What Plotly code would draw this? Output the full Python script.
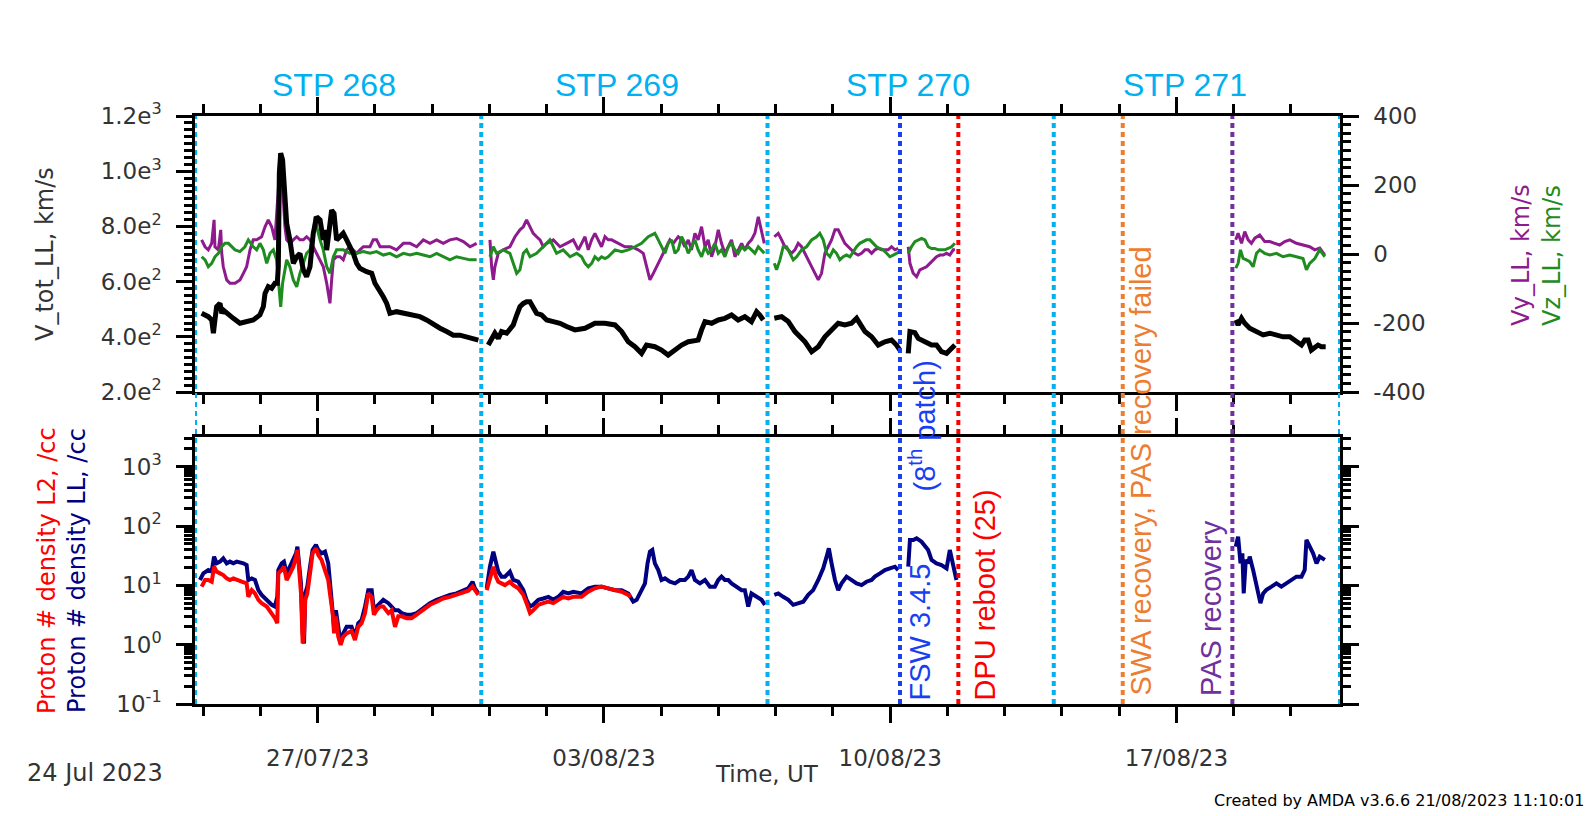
import pandas as pd
import plotly.graph_objects as go

T0 = pd.Timestamp("2023-07-24 00:00")
X_RANGE = ["2023-07-24 00:00", "2023-08-21 00:00"]

# ---------------- data: (hours since 2023-07-24 00:00 UT, value) ----------------
vtot_seg1 = [(3.9,485),(7.8,473),(9.8,461),(10.8,413),(11.7,461),(12.7,509),(14.7,521),(15.7,485),(16.6,497),(18.6,485),
             (22.5,467),(26.4,449),(30.3,455),(34.2,461),(38.1,479),(40.1,509),(41.1,557),(43.0,582),(45.0,576),(46.9,594),
             (48.3,594),(48.9,654),(49.5,992),(50.3,1065),(51.4,1041),(52.2,932),(53.8,811),(55.7,751),(57.7,666),(59.7,690),
             (61.6,702),(63.6,642),(65.5,618),(67.5,654),(69.4,775),(71.4,835),(73.4,823),(75.3,751),(76.3,787),(77.3,714),
             (79.2,811),(80.2,859),(81.6,847),(83.1,751),(85.1,763),(87.0,775),(89.0,751),(90.9,727),(92.9,702),(94.9,666),
             (96.8,648),(100.7,636),(103.7,630),(105.6,594),(107.6,576),(110.5,545),(112.5,521),(114.4,485),(118.3,491),
             (122.3,485),(126.2,479),(132.0,473),(135.9,461),(139.9,443),(143.8,431),(147.7,419),(151.6,406),(155.5,406),
             (159.4,400),(163.3,391),(166.3,388)]
vtot_seg2 = [(172.1,370),(174.1,394),(176.0,413),(178.0,394),(179.9,419),(182.9,413),(184.8,425),(186.8,443),(188.8,479),
             (190.7,509),(192.7,521),(194.6,527),(196.6,527),(198.5,509),(200.5,485),(203.4,479),(206.4,461),(210.3,455),
             (214.2,449),(218.1,437),(223.0,425),(228.9,431),(234.7,449),(240.6,449),(246.5,443),(250.4,419),(254.3,382),
             (258.2,364),(262.1,340),(265.0,370),(269.9,364),(273.8,352),(277.7,334),(281.7,352),(285.6,370),(289.5,382),
             (295.3,388),(297.3,425),(299.3,455),(303.2,449),(307.1,461),(311.0,467),(314.9,479),(318.8,461),(322.7,473),
             (326.6,455),(329.6,491),(331.5,479),(333.5,461)]
vtot_seg3 = [(340.0,467),(344.3,473),(348.2,455),(352.1,419),(358.0,382),(361.9,346),(365.8,364),(369.7,400),(373.6,425),
             (377.5,449),(381.4,443),(385.3,449),(388.3,467),(390.2,449),(393.2,419),(397.1,400),(401.0,370),(404.9,382),
             (408.8,388),(411.7,370),(413.7,352)]
vtot_seg4 = [(418.6,340),(419.6,419),(422.5,415),(424.5,394),(428.4,382),(432.3,370),(435.2,370),(438.1,346),(441.1,340),
             (444.0,358),(446.0,370)]
vtot_seg5 = [(610.8,461),(612.2,443),(614.2,467),(616.1,449),(619.0,431),(623.0,419),(626.9,407),(630.8,413),(634.7,407),
             (638.6,400),(642.5,400),(646.4,382),(649.4,370),(651.3,388),(653.3,388),(655.2,352),(657.2,364),(659.1,370),
             (661.1,364),(663.6,364)]

vy_seg1 = [(3.9,41),(5.9,21),(7.8,12),(9.8,31),(11.2,99),(11.7,21),(13.7,12),(15.1,70),(15.7,2),(16.6,-37),(18.6,-75),
           (20.5,-85),(23.5,-85),(26.4,-75),(28.4,-56),(30.3,-37),(32.3,12),(34.2,41),(36.2,41),(39.1,50),(41.1,79),(43.0,99),
           (45.0,79),(46.9,41),(48.9,186),(49.9,292),(50.9,234),(51.8,157),(52.8,79),(53.8,41),(55.7,31),(57.7,41),(59.7,50),
           (61.6,41),(63.6,41),(65.5,50),(67.5,41),(69.4,21),(71.4,2),(73.4,-17),(75.3,-37),(77.3,-85),(79.2,-143),(80.2,-75),
           (81.2,-17),(83.1,-8),(85.1,-8),(87.0,-17),(89.0,12),(90.9,21),(92.9,12),(94.9,2),(96.8,12),(98.8,21),(102.7,21),
           (104.6,41),(106.6,41),(108.6,21),(110.5,21),(114.4,21),(118.3,12),(122.3,31),(126.2,31),(130.1,21),(134.0,41),
           (137.9,31),(141.8,41),(145.7,31),(149.6,41),(153.5,45),(157.5,36),(161.4,21),(165.3,31)]
vy_seg2 = [(173.1,41),(174.1,-37),(175.1,-75),(176.0,-37),(178.0,2),(180.9,12),(184.8,21),(187.8,50),(190.7,70),(192.7,79),
           (194.6,99),(196.6,79),(198.5,60),(200.5,50),(202.5,41),(204.4,21),(206.4,31),(210.3,41),(214.2,21),(218.1,31),
           (222.0,41),(225.0,12),(226.9,31),(228.9,50),(230.8,12),(232.8,41),(234.7,60),(236.7,41),(238.6,21),(240.6,50),
           (242.5,41),(244.5,41),(248.4,31),(252.3,21),(256.2,21),(260.1,12),(263.1,2),(265.0,-37),(267.0,-75),(269.0,-56),
           (270.9,-37),(272.9,-17),(274.8,2),(276.8,21),(278.7,41),(280.7,31),(283.6,50),(285.6,41),(287.5,21),(289.5,41),
           (291.4,12),(293.4,60),(295.3,41),(297.3,79),(299.3,21),(301.2,41),(303.2,-8),(305.1,21),(307.1,70),(309.0,31),
           (311.0,2),(313.0,21),(314.9,41),(316.9,-8),(318.8,12),(320.8,31),(322.7,12),(324.7,31),(326.6,41),(328.6,60),
           (330.6,108),(332.5,70),(334.1,31)]
vy_seg3 = [(340.0,50),(342.3,60),(344.3,41),(346.2,21),(348.2,12),(350.1,2),(352.1,12),(354.0,31),(356.0,21),(358.0,2),
           (359.9,-17),(361.9,-37),(363.8,-56),(365.8,-75),(367.7,-56),(369.7,2),(371.6,21),(373.6,41),(375.6,70),(377.5,70),
           (379.5,50),(381.4,31),(383.4,21),(385.3,12),(387.3,2),(389.2,-3),(391.2,2),(393.2,12),(395.1,12),(397.1,2),
           (399.0,12),(401.0,16),(402.9,12),(404.9,12),(406.8,12),(408.8,21),(410.8,12),(412.7,16)]
vy_seg4 = [(418.6,21),(419.6,-27),(421.5,-56),(423.5,-66),(425.4,-46),(427.4,-42),(429.3,-37),(431.3,-27),(433.3,-17),
           (435.2,-8),(437.2,-3),(439.1,-3),(441.1,2),(443.0,-3),(445.0,12),(446.0,12)]
vy_seg5 = [(610.8,41),(612.2,60),(614.2,31),(616.1,65),(618.1,41),(620.0,31),(622.0,46),(624.9,55),(627.8,36),(630.8,36),
           (633.7,31),(636.6,26),(639.6,36),(642.5,41),(646.4,31),(650.3,26),(654.2,21),(657.2,12),(660.1,17),(663.1,-3)]

vz_seg1 = [(3.9,-8),(5.9,-17),(7.8,-37),(9.8,-27),(11.7,-8),(13.7,2),(15.7,21),(17.6,31),(19.6,31),(21.5,21),(23.5,12),
           (26.4,7),(29.3,21),(31.3,41),(34.2,21),(36.2,12),(38.1,31),(40.1,12),(42.1,-27),(44.0,2),(46.0,12),(47.9,-17),
           (49.5,-114),(50.3,-153),(51.4,-85),(52.8,-37),(53.8,-17),(55.7,-37),(57.7,-75),(59.7,-95),(61.6,-56),(63.6,-27),
           (65.5,2),(67.5,12),(69.4,60),(70.4,108),(71.4,79),(73.4,41),(75.3,12),(77.3,-37),(79.2,-56),(81.2,-8),(83.1,12),
           (87.0,12),(90.9,2),(94.9,2),(98.8,7),(102.7,2),(106.6,7),(110.5,-3),(114.4,2),(118.3,-8),(122.3,2),(126.2,-3),
           (130.1,2),(134.0,-3),(137.9,-8),(141.8,2),(145.7,-8),(149.6,-17),(153.5,-8),(157.5,-13),(161.4,-17),(165.3,-17)]
vz_seg2 = [(173.1,-8),(175.1,21),(177.0,2),(180.9,12),(184.8,2),(188.8,-56),(190.7,-46),(192.7,2),(194.6,12),(196.6,-8),
           (200.5,2),(204.4,21),(208.3,41),(212.2,2),(216.1,12),(220.1,-8),(224.0,2),(226.9,-8),(228.9,-27),(230.8,-37),
           (232.8,-27),(234.7,-8),(236.7,-17),(238.6,-8),(240.6,-13),(242.5,-8),(244.5,2),(246.5,12),(250.4,7),(254.3,12),
           (258.2,21),(262.1,31),(266.0,50),(269.9,60),(271.9,41),(273.8,21),(275.8,2),(277.7,31),(279.7,41),(281.7,2),
           (283.6,12),(285.6,50),(287.5,31),(289.5,2),(291.4,21),(293.4,41),(295.3,12),(297.3,-8),(299.3,21),(301.2,2),
           (303.2,12),(305.1,31),(307.1,2),(309.0,12),(311.0,-8),(313.0,21),(314.9,31),(316.9,12),(318.8,2),(320.8,21),
           (322.7,12),(324.7,21),(326.6,12),(328.6,2),(330.6,21),(332.5,12),(334.1,2)]
vz_seg3 = [(340.0,-27),(341.3,-46),(343.3,-17),(345.2,21),(347.2,21),(349.1,2),(351.1,-17),(353.1,-8),(356.0,12),(358.9,21),
           (361.9,41),(364.8,50),(366.7,60),(368.7,41),(370.7,2),(372.6,-8),(374.6,12),(376.5,2),(378.5,-17),(380.4,-8),
           (382.4,-3),(384.4,-8),(386.3,7),(388.3,21),(390.2,31),(392.2,36),(394.1,41),(396.1,41),(398.0,31),(400.0,21),
           (402.0,16),(403.9,12),(405.9,2),(407.8,-8),(409.8,-3),(411.7,2),(413.7,7)]
vz_seg4 = [(418.6,2),(420.5,21),(422.5,36),(424.5,41),(426.4,45),(428.4,41),(430.3,21),(432.3,16),(434.2,16),(436.2,12),
           (438.1,12),(440.1,12),(442.0,16),(444.0,21),(446.0,31)]
vz_seg5 = [(610.8,-41),(612.2,-27),(613.6,12),(615.1,-13),(617.1,-17),(619.0,-22),(621.0,-37),(623.0,2),(624.9,12),
           (627.8,2),(630.8,-3),(634.7,2),(638.6,-8),(642.5,-3),(646.4,-8),(650.3,-13),(652.3,-46),(654.2,-27),(657.2,-13),
           (660.1,12),(663.1,-8)]

nll_seg1 = [(2.9,12.3),(4.9,15.9),(7.8,18.1),(9.8,17.0),(11.2,30.4),(12.7,23.5),(14.7,25.1),(16.6,28.5),(18.6,23.5),
            (20.5,25.1),(22.5,23.5),(24.5,25.1),(28.4,23.5),(30.3,22.0),(31.3,12.3),(33.3,13.1),(35.2,12.3),(37.2,8.3),
            (39.1,6.9),(42.1,5.7),(45.0,4.7),(46.9,4.4),(48.3,6.4),(48.9,18.1),(50.9,23.5),(52.2,25.1),(53.8,15.9),(55.7,20.6),
            (57.7,26.7),(59.3,34.6),(60.1,44.9),(60.8,30.4),(62.2,10.8),(63.2,1.55),(64.0,1.05),(64.7,7.3),(65.9,9.5),
            (67.5,20.6),(69.0,39.4),(71.0,47.9),(72.4,39.4),(74.3,34.6),(76.3,36.9),(78.2,23.5),(79.2,12.3),(80.8,4.4),
            (81.6,2.0),(82.7,3.8),(84.1,1.8),(85.5,1.05),(87.0,1.55),(89.0,2.0),(91.9,2.0),(93.9,1.36),(95.8,2.3),(97.8,2.6),
            (99.8,4.4),(101.7,8.3),(103.7,8.3),(105.0,3.8),(106.6,4.4),(108.6,5.0),(110.5,5.7),(113.5,5.0),(115.4,4.4),
            (117.4,3.8),(119.3,3.8),(121.3,3.4),(124.2,3.2),(127.1,3.2),(130.1,3.4),(134.0,4.1),(137.9,5.0),(141.8,5.7),
            (145.7,6.4),(149.6,6.9),(153.5,7.3),(157.5,8.3),(160.4,8.9),(162.9,11.5),(164.3,8.9),(166.3,7.3)]
nll_seg2 = [(171.2,8.9),(173.1,20.6),(175.1,36.9),(176.6,23.5),(178.0,17.0),(179.9,14.0),(181.9,14.0),(184.8,17.0),
            (186.8,12.3),(189.7,11.5),(192.7,8.3),(194.6,5.7),(196.6,4.4),(198.5,4.7),(201.5,5.7),(204.4,6.0),(207.4,6.4),
            (210.3,5.7),(213.2,6.4),(216.1,7.8),(219.1,7.3),(222.0,7.8),(226.9,7.3),(230.8,8.9),(234.7,9.5),(238.6,9.5),
            (242.5,8.9),(246.5,8.3),(250.4,8.3),(254.3,7.3),(257.2,5.3),(259.2,5.7),(262.1,8.3),(264.1,10.8),(265.6,23.5),
            (267.0,36.9),(268.4,39.4),(269.9,23.5),(271.9,18.1),(273.8,12.3),(275.8,13.1),(278.7,11.5),(281.7,10.8),
            (284.6,12.3),(287.5,12.3),(289.5,14.0),(291.4,18.1),(293.4,12.3),(296.3,10.8),(299.3,12.3),(302.2,9.5),
            (305.1,9.5),(307.1,12.3),(309.0,14.0),(311.0,12.3),(313.0,12.3),(314.9,10.8),(317.8,9.5),(320.8,8.3),
            (322.7,8.3),(324.7,4.4),(326.6,7.3),(329.6,6.4),(332.5,5.7),(334.5,4.7)]
nll_seg3 = [(340.0,6.9),(342.3,7.3),(345.2,6.4),(348.2,5.7),(351.1,4.7),(354.0,5.0),(357.0,5.3),(359.9,6.9),(362.8,8.3),
            (365.8,12.3),(368.7,19.3),(370.7,30.4),(372.0,42.0),(373.6,23.5),(375.6,12.3),(377.5,8.3),(379.5,10.8),
            (382.4,14.0),(385.3,12.3),(388.3,10.8),(391.2,10.1),(394.1,11.5),(397.1,12.3),(399.0,14.0),(402.0,15.9),
            (404.9,18.1),(407.8,19.3),(410.8,20.6),(412.7,18.1)]
nll_seg4 = [(418.6,20.6),(419.6,58.1),(421.5,58.1),(423.5,61.9),(426.4,54.4),(428.4,44.8),(430.3,39.4),(432.3,26.7),
            (435.2,23.5),(438.1,22.0),(441.1,19.3),(443.0,39.4),(445.0,23.5),(446.9,12.3)]
nll_seg5 = [(610.8,44.9),(612.2,66.2),(613.6,23.5),(614.7,34.7),(615.5,7.3),(616.7,26.8),(618.1,23.5),(619.0,30.5),
            (621.0,18.2),(622.6,10.8),(623.9,6.5),(625.3,5.0),(626.9,7.3),(628.8,8.4),(631.8,9.5),(634.7,10.8),(637.6,9.5),
            (640.6,10.8),(643.5,12.3),(646.4,14.0),(649.4,14.0),(651.3,18.2),(652.3,58.2),(654.2,44.9),(656.2,34.7),
            (658.2,23.5),(660.1,30.5),(663.1,26.8)]

nl2_seg1 = [(3.9,9.5),(5.9,12.3),(7.8,12.3),(9.8,11.5),(11.2,20.6),(12.7,17.0),(14.7,15.9),(16.6,14.9),(18.6,13.1),
            (20.5,12.3),(22.5,13.1),(24.5,12.3),(27.4,11.5),(30.3,10.8),(31.3,6.4),(33.3,8.3),(35.2,7.3),(37.2,5.7),(39.1,5.0),
            (42.1,4.4),(45.0,3.4),(46.9,2.8),(48.3,2.3),(48.9,15.9),(50.9,18.1),(52.2,20.6),(53.8,12.3),(55.7,15.9),(57.7,20.6),
            (59.3,30.4),(60.1,39.4),(60.8,23.5),(62.2,7.3),(63.2,1.05),(64.0,1.55),(64.7,5.7),(65.9,7.3),(67.5,15.9),(69.0,34.6),
            (71.0,42.0),(72.4,32.4),(74.3,26.7),(76.3,18.1),(78.2,12.3),(79.2,7.3),(80.8,3.4),(81.6,1.55),(82.7,3.0),(84.1,1.36),
            (85.5,0.99),(87.0,1.36),(89.0,1.55),(91.9,1.7),(93.9,1.2),(95.8,2.0),(97.8,2.3),(99.8,3.4),(101.7,7.3),(103.7,6.4),
            (105.0,3.2),(106.6,3.8),(108.6,4.4),(110.5,4.4),(113.5,3.4),(115.4,3.8),(117.4,2.0),(119.3,3.0),(121.3,3.0),
            (124.2,2.8),(127.1,2.8),(130.1,3.2),(134.0,3.8),(137.9,4.7),(141.8,5.3),(145.7,6.0),(149.6,6.4),(153.5,6.9),
            (157.5,7.5),(160.4,8.1),(162.9,9.5),(164.3,8.3),(166.3,6.9)]
nl2_seg2 = [(171.2,8.3),(173.1,12.3),(175.1,20.6),(176.6,14.0),(178.0,11.5),(179.9,10.8),(181.9,10.1),(184.8,11.5),
            (186.8,10.1),(189.7,8.9),(192.7,6.9),(194.6,5.0),(196.6,3.4),(198.5,3.8),(201.5,4.7),(204.4,5.0),(207.4,5.3),
            (210.3,5.0),(213.2,5.7),(216.1,6.4),(219.1,6.0),(222.0,6.4),(226.9,6.4),(230.8,7.8),(234.7,8.9),(238.6,9.5),
            (242.5,8.9),(246.5,8.3),(250.4,7.8),(254.3,6.9),(255.8,6.4)]

# event markers (UT)
stp_times = ["2023-07-24 00:00", "2023-07-31 00:00", "2023-08-07 00:00", "2023-08-14 00:00", "2023-08-21 00:00"]
stp_labels = ["STP 268", "STP 269", "STP 270", "STP 271"]
events = [("2023-08-10 05:45", "#1A3FF0"), ("2023-08-11 16:00", "#FF0000"),
          ("2023-08-15 16:30", "#ED7D31"), ("2023-08-18 08:50", "#7030A0")]
vtot_ticks = [200, 400, 600, 800, 1000, 1200]
vtot_ticktext = ["2.0e<sup>2</sup>", "4.0e<sup>2</sup>", "6.0e<sup>2</sup>", "8.0e<sup>2</sup>", "1.0e<sup>3</sup>", "1.2e<sup>3</sup>"]
vyz_ticks = [-400, -200, 0, 200, 400]
vyz_ticktext = ["-400", "-200", "0", "200", "400"]
n_ticks = [0.1, 1, 10, 100, 1000]
n_ticktext = ["10<sup>-1</sup>", "10<sup>0</sup>", "10<sup>1</sup>", "10<sup>2</sup>", "10<sup>3</sup>"]

# ---------------- helpers ----------------
def seg_xy(segs):
    xs, ys = [], []
    for s in segs:
        if xs:
            xs.append(None); ys.append(None)
        for h, v in s:
            xs.append(T0 + pd.Timedelta(hours=h))
            ys.append(v)
    return xs, ys

# layout geometry in pixels
L, R, T, B = 195, 1340, 116, 704
W, H = 1591, 816
def px(xp): return (xp - L) / (R - L)
def py(yp): return (B - yp) / (B - T)

TOP_DOM = [py(392), 1.0]
BOT_DOM = [0.0, py(437)]

PURPLE = "#8E1B8E"
GREEN = "#1E8C1E"
NAVY = "#000080"
RED = "#FF0000"
STP_BLUE = "#00B0F0"
AXC = "black"
LBL = "#333333"

fig = go.Figure()

x, y = seg_xy([vy_seg1, vy_seg2, vy_seg3, vy_seg4, vy_seg5])
fig.add_trace(go.Scatter(x=x, y=y, mode="lines", line=dict(color=PURPLE, width=3), xaxis="x", yaxis="y",
                         connectgaps=False, hoverinfo="skip"))
x, y = seg_xy([vz_seg1, vz_seg2, vz_seg3, vz_seg4, vz_seg5])
fig.add_trace(go.Scatter(x=x, y=y, mode="lines", line=dict(color=GREEN, width=3), xaxis="x", yaxis="y",
                         connectgaps=False, hoverinfo="skip"))
x, y = seg_xy([vtot_seg1, vtot_seg2, vtot_seg3, vtot_seg4, vtot_seg5])
fig.add_trace(go.Scatter(x=x, y=y, mode="lines", line=dict(color="black", width=5), xaxis="x", yaxis="y3",
                         connectgaps=False, hoverinfo="skip"))
x, y = seg_xy([nll_seg1, nll_seg2, nll_seg3, nll_seg4, nll_seg5])
fig.add_trace(go.Scatter(x=x, y=y, mode="lines", line=dict(color=NAVY, width=4), xaxis="x2", yaxis="y2",
                         connectgaps=False, hoverinfo="skip"))
x, y = seg_xy([nl2_seg1, nl2_seg2])
fig.add_trace(go.Scatter(x=x, y=y, mode="lines", line=dict(color=RED, width=4), xaxis="x2", yaxis="y2",
                         connectgaps=False, hoverinfo="skip"))

tickfont = dict(family="DejaVu Sans", size=23, color=LBL)
DAY = 86400000
xcommon = dict(type="date", range=X_RANGE, showline=True, linecolor=AXC, linewidth=2.5, mirror="ticks",
               ticks="outside", ticklen=16, tickwidth=2.5, tickcolor=AXC, dtick=7 * DAY, tick0="2023-07-27",
               showgrid=False, zeroline=False, tickfont=tickfont,
               minor=dict(dtick=1.4 * DAY, tick0="2023-07-27", ticks="outside", ticklen=9, tickwidth=2.5,
                          tickcolor=AXC, showgrid=False))

minor_log = [m * 10 ** e for e in range(-1, 4) for m in range(2, 10) if m * 10 ** e < 10 ** 3.5]

fig.update_layout(
    width=W, height=H, margin=dict(l=L, r=W - R, t=T, b=H - B, autoexpand=False),
    paper_bgcolor="white", plot_bgcolor="white", showlegend=False,
    font=dict(family="DejaVu Sans", size=23, color=LBL),
    xaxis=dict(domain=[0, 1], anchor="y", showticklabels=False, **xcommon),
    xaxis2=dict(domain=[0, 1], anchor="y2", matches="x", showticklabels=True, tickformat="%d/%m/%y",
                ticklabelstandoff=16, **xcommon),
    yaxis=dict(domain=TOP_DOM, anchor="x", side="right", range=[-400, 400], tickmode="array", tickvals=vyz_ticks,
               ticktext=vyz_ticktext, showline=True, linecolor=AXC, linewidth=2.5, ticks="outside", ticklen=16,
               tickwidth=2.5, tickcolor=AXC, showgrid=False, zeroline=False, tickfont=tickfont, ticklabelstandoff=10,
               minor=dict(dtick=25, tick0=0, ticks="outside", ticklen=8, tickwidth=2.5, tickcolor=AXC, showgrid=False)),
    yaxis3=dict(overlaying="y", anchor="x", side="left", range=[200, 1200], tickmode="array", tickvals=vtot_ticks,
                ticktext=vtot_ticktext, showline=True, linecolor=AXC, linewidth=2.5, ticks="outside", ticklen=16,
                tickwidth=2.5, tickcolor=AXC, showgrid=False, zeroline=False, tickfont=tickfont, ticklabelstandoff=10,
                minor=dict(dtick=25, tick0=0, ticks="outside", ticklen=8, tickwidth=2.5, tickcolor=AXC, showgrid=False)),
    yaxis2=dict(domain=BOT_DOM, anchor="x2", type="log", range=[-1, 3.5], tickmode="array", tickvals=n_ticks,
                ticktext=n_ticktext, showline=True, linecolor=AXC, linewidth=2.5, mirror="ticks", ticks="outside",
                ticklen=16, tickwidth=2.5, tickcolor=AXC, showgrid=False, zeroline=False, tickfont=tickfont,
                ticklabelstandoff=10,
                minor=dict(tickmode="array", tickvals=minor_log, ticks="outside", ticklen=8, tickwidth=2.5,
                           tickcolor=AXC, showgrid=False)),
)

shapes = []
for t in stp_times:
    shapes.append(dict(type="line", xref="x", yref="paper", x0=t, x1=t, y0=0, y1=1, layer="above",
                       line=dict(color=STP_BLUE, width=4, dash="5px,4px")))
for t, c in events:
    shapes.append(dict(type="line", xref="x", yref="paper", x0=t, x1=t, y0=0, y1=1, layer="above",
                       line=dict(color=c, width=4, dash="5px,4px")))
fig.update_layout(shapes=shapes)

ann = []
# STP labels centred between successive STP boundaries
stp_px = [334, 617, 908, 1185]
for lab, xp in zip(stp_labels, stp_px):
    ann.append(dict(text=lab, xref="paper", yref="paper", x=px(xp), y=py(85), xanchor="center", yanchor="middle",
                    showarrow=False, font=dict(family="Liberation Sans", size=32, color=STP_BLUE)))
evfont = "Liberation Sans"
ann += [
    dict(text="FSW 3.4.5", x=px(919), y=py(703), font=dict(color="#1A3FF0")),
    dict(text="(8<sup>th</sup> patch)", x=px(922), y=py(493), font=dict(color="#1A3FF0")),
    dict(text="DPU reboot (25)", x=px(984), y=py(703), font=dict(color=RED)),
    dict(text="SWA recovery, PAS recovery failed", x=px(1140), y=py(698), font=dict(color="#ED7D31")),
    dict(text="PAS recovery", x=px(1211), y=py(698), font=dict(color="#7030A0")),
]
for a in ann[len(stp_labels):]:
    a.update(xref="paper", yref="paper", xanchor="center", yanchor="bottom", textangle=-90, showarrow=False)
    a["font"].update(family=evfont, size=29)

lab = dict(xref="paper", yref="paper", xanchor="center", yanchor="middle", textangle=-90, showarrow=False)
ann += [
    dict(text="V_tot_LL, km/s", x=px(45), y=py(254), font=dict(family="DejaVu Sans", size=24, color=LBL), **lab),
    dict(text="Proton # density L2, /cc", x=px(47), y=py(571), font=dict(family="DejaVu Sans", size=24, color=RED), **lab),
    dict(text="Proton # density LL, /cc", x=px(77), y=py(571), font=dict(family="DejaVu Sans", size=24, color=NAVY), **lab),
    dict(text="Vy_LL, km/s", x=px(1521), y=py(255), font=dict(family="DejaVu Sans", size=24, color=PURPLE), **lab),
    dict(text="Vz_LL, km/s", x=px(1552), y=py(255), font=dict(family="DejaVu Sans", size=24, color=GREEN), **lab),
    dict(text="Time, UT", xref="paper", yref="paper", x=px(767), y=py(774), xanchor="center", yanchor="middle",
         showarrow=False, font=dict(family="DejaVu Sans", size=23, color=LBL)),
    dict(text="24 Jul 2023", xref="paper", yref="paper", x=px(25), y=py(773), xanchor="left", yanchor="middle",
         showarrow=False, font=dict(family="DejaVu Sans", size=24, color=LBL)),
    dict(text="Created by AMDA v3.6.6 21/08/2023 11:10:01", xref="paper", yref="paper", x=px(1586), y=py(800),
         xanchor="right", yanchor="middle", showarrow=False, font=dict(family="DejaVu Sans", size=16, color="black")),
]
fig.update_layout(annotations=ann)

fig.write_html("out.html")
